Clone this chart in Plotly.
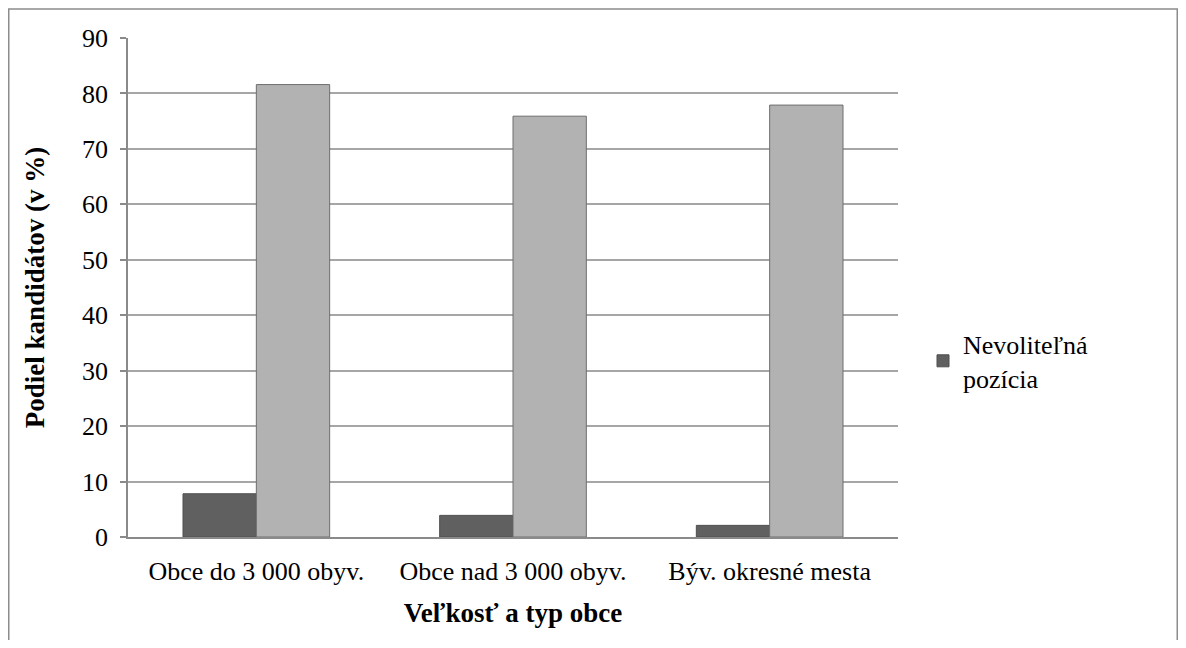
import plotly.graph_objects as go

categories = ["Obce do 3 000 obyv.", "Obce nad 3 000 obyv.", "Býv. okresné mesta"]
nevolitelna = [7.8, 3.9, 2.1]
volitelna = [81.6, 75.9, 77.9]
y_ticks = [0, 10, 20, 30, 40, 50, 60, 70, 80, 90]

FONT = "Liberation Serif, Times New Roman, serif"

fig = go.Figure()
fig.add_trace(go.Bar(
    x=categories, y=nevolitelna, name="Nevoliteľná<br>pozícia",
    marker=dict(color="#606060", line=dict(color="#4f4f4f", width=1)),
))
fig.add_trace(go.Bar(
    x=categories, y=volitelna, name="Voliteľná pozícia", showlegend=False,
    marker=dict(color="#b2b2b2", line=dict(color="#6e6e6e", width=1)),
))

# page body adds an 8px offset
W, H = 1170, 632
L, T = 120, 30
R = W - 890
B = H - 529
pw = W - L - R
ph = H - T - B

fig.update_layout(
    width=W, height=H,
    margin=dict(l=L, r=R, t=T, b=B),
    paper_bgcolor="white", plot_bgcolor="white",
    barmode="group", bargap=1.5 / 3.5, bargroupgap=0,
    font=dict(family=FONT, size=26, color="black"),
    legend=dict(
        x=(915 - L) / pw, y=(529 - 353) / ph, xanchor="left", yanchor="middle",
        font=dict(family=FONT, size=26, color="black"),
        bgcolor="rgba(0,0,0,0)", itemwidth=30, tracegroupgap=0,
    ),
    xaxis=dict(
        showgrid=False, showline=True, linecolor="#8a8a8a", linewidth=1.5,
        ticks="", ticklabelstandoff=10,
        title=dict(text="<b>Veľkosť a typ obce</b>", standoff=18,
                   font=dict(family=FONT, size=27)),
        tickfont=dict(family=FONT, size=26),
    ),
    yaxis=dict(
        range=[0, 90], tickvals=y_ticks, showgrid=True, gridcolor="#a6a6a6", gridwidth=1.5,
        showline=True, linecolor="#8a8a8a", linewidth=1.5,
        ticks="outside", ticklen=6, tickcolor="#8a8a8a", tickwidth=1.5,
        ticklabelstandoff=7, zeroline=False,
        title=dict(text="<b>Podiel kandidátov (v %)</b>", standoff=30,
                   font=dict(family=FONT, size=27)),
        tickfont=dict(family=FONT, size=26),
    ),
    shapes=[dict(
        type="rect", xref="paper", yref="paper",
        x0=(0.75 - L) / pw, x1=(W - 0.75 - L) / pw,
        y0=(529 - 650) / ph, y1=(529 - 1) / ph,
        line=dict(color="#8c8c8c", width=1.5), fillcolor="rgba(0,0,0,0)", layer="below",
    )],
)

fig.write_html("out.html")
